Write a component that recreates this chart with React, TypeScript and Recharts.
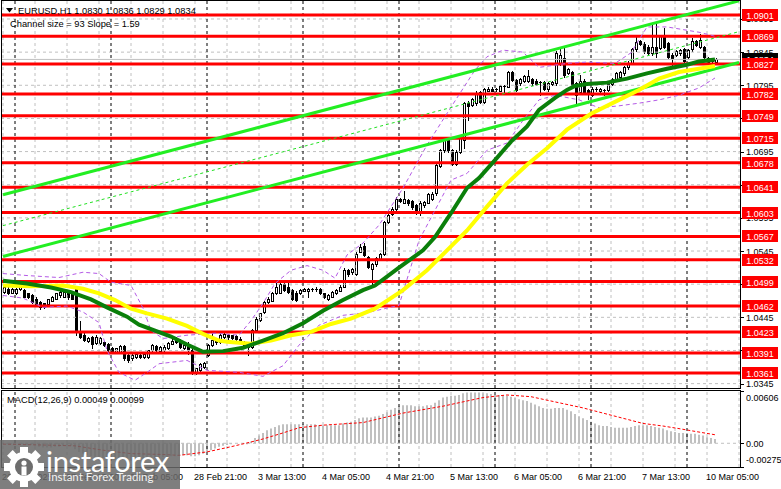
import React from 'react';
import { ComposedChart, Bar, Line, XAxis, YAxis, ReferenceLine } from 'recharts';

const FONT = '"Liberation Sans", Arial, sans-serif';

// ---- price candles [open, high, low, close], hourly bars ----
const candles: number[][] = [
  [1.0483,1.0492,1.0482,1.0490],[1.0488,1.0490,1.0480,1.0482],[1.0482,1.0489,1.0481,1.0487],[1.0482,1.0489,1.0480,1.0487],
  [1.0487,1.0493,1.0486,1.0492],[1.0486,1.0488,1.0475,1.0476],[1.0481,1.0482,1.0474,1.0476],[1.0478,1.0480,1.0467,1.0468],
  [1.0473,1.0475,1.0462,1.0463],[1.0468,1.0470,1.0458,1.0461],[1.0466,1.0467,1.0459,1.0461],[1.0465,1.0473,1.0463,1.0472],
  [1.0470,1.0477,1.0469,1.0476],[1.0473,1.0482,1.0472,1.0481],[1.0478,1.0485,1.0476,1.0483],[1.0476,1.0486,1.0475,1.0483],
  [1.0482,1.0485,1.0473,1.0475],[1.0481,1.0483,1.0472,1.0473],[1.0488,1.0490,1.0418,1.0423],[1.0425,1.0439,1.0414,1.0416],
  [1.0419,1.0421,1.0409,1.0411],[1.0409,1.0416,1.0408,1.0414],[1.0415,1.0417,1.0399,1.0405],[1.0406,1.0418,1.0405,1.0416],
  [1.0406,1.0416,1.0405,1.0414],[1.0408,1.0410,1.0402,1.0403],[1.0405,1.0406,1.0394,1.0395],[1.0399,1.0400,1.0391,1.0393],
  [1.0393,1.0399,1.0391,1.0398],[1.0393,1.0403,1.0392,1.0401],[1.0401,1.0403,1.0381,1.0383],[1.0388,1.0389,1.0378,1.0380],
  [1.0383,1.0389,1.0381,1.0388],[1.0385,1.0391,1.0384,1.0389],[1.0388,1.0389,1.0384,1.0385],[1.0385,1.0390,1.0384,1.0389],
  [1.0385,1.0396,1.0384,1.0395],[1.0395,1.0405,1.0394,1.0403],[1.0401,1.0403,1.0394,1.0395],[1.0394,1.0401,1.0393,1.0400],
  [1.0395,1.0403,1.0394,1.0400],[1.0398,1.0408,1.0397,1.0406],[1.0405,1.0412,1.0404,1.0410],[1.0413,1.0416,1.0406,1.0408],
  [1.0411,1.0413,1.0399,1.0400],[1.0399,1.0404,1.0397,1.0403],[1.0403,1.0408,1.0390,1.0395],[1.0395,1.0397,1.0359,1.0361],
  [1.0361,1.0369,1.0359,1.0368],[1.0365,1.0376,1.0364,1.0375],[1.0370,1.0378,1.0369,1.0376],[1.0388,1.0404,1.0386,1.0403],
  [1.0403,1.0423,1.0402,1.0411],[1.0411,1.0413,1.0405,1.0408],[1.0408,1.0421,1.0407,1.0419],[1.0415,1.0422,1.0414,1.0420],
  [1.0418,1.0420,1.0413,1.0415],[1.0418,1.0419,1.0413,1.0414],[1.0417,1.0419,1.0410,1.0412],[1.0413,1.0415,1.0406,1.0408],
  [1.0408,1.0410,1.0401,1.0403],[1.0405,1.0407,1.0388,1.0400],[1.0400,1.0427,1.0399,1.0426],[1.0426,1.0445,1.0425,1.0443],
  [1.0441,1.0452,1.0440,1.0451],[1.0453,1.0470,1.0452,1.0468],[1.0468,1.0475,1.0466,1.0473],[1.0470,1.0483,1.0469,1.0481],
  [1.0481,1.0502,1.0480,1.0491],[1.0482,1.0497,1.0481,1.0495],[1.0495,1.0497,1.0485,1.0486],[1.0491,1.0502,1.0482,1.0483],
  [1.0486,1.0487,1.0471,1.0472],[1.0482,1.0484,1.0470,1.0471],[1.0481,1.0488,1.0480,1.0486],[1.0485,1.0489,1.0484,1.0487],
  [1.0485,1.0489,1.0476,1.0487],[1.0487,1.0489,1.0484,1.0486],[1.0486,1.0490,1.0484,1.0487],[1.0487,1.0489,1.0480,1.0481],
  [1.0481,1.0482,1.0474,1.0476],[1.0473,1.0480,1.0471,1.0478],[1.0476,1.0485,1.0475,1.0483],[1.0481,1.0488,1.0480,1.0486],
  [1.0485,1.0493,1.0484,1.0491],[1.0491,1.0519,1.0490,1.0517],[1.0516,1.0518,1.0508,1.0510],[1.0513,1.0520,1.0511,1.0518],
  [1.0510,1.0543,1.0509,1.0541],[1.0544,1.0556,1.0543,1.0551],[1.0552,1.0557,1.0537,1.0539],[1.0536,1.0538,1.0519,1.0521],
  [1.0518,1.0527,1.0496,1.0525],[1.0525,1.0536,1.0523,1.0534],[1.0533,1.0542,1.0531,1.0540],[1.0541,1.0591,1.0539,1.0589],
  [1.0589,1.0601,1.0587,1.0599],[1.0601,1.0611,1.0599,1.0609],[1.0608,1.0626,1.0606,1.0624],[1.0623,1.0625,1.0619,1.0620],
  [1.0618,1.0636,1.0617,1.0623],[1.0622,1.0624,1.0615,1.0617],[1.0620,1.0622,1.0609,1.0611],[1.0614,1.0616,1.0601,1.0603],
  [1.0602,1.0620,1.0600,1.0618],[1.0614,1.0621,1.0612,1.0619],[1.0618,1.0633,1.0617,1.0631],[1.0624,1.0634,1.0622,1.0631],
  [1.0632,1.0677,1.0630,1.0675],[1.0673,1.0699,1.0672,1.0697],[1.0697,1.0715,1.0695,1.0712],[1.0712,1.0714,1.0695,1.0697],
  [1.0697,1.0699,1.0675,1.0677],[1.0677,1.0697,1.0675,1.0695],[1.0695,1.0717,1.0693,1.0715],[1.0712,1.0770,1.0700,1.0768],
  [1.0768,1.0771,1.0742,1.0763],[1.0765,1.0776,1.0763,1.0774],[1.0768,1.0786,1.0766,1.0784],[1.0785,1.0787,1.0768,1.0770],
  [1.0770,1.0791,1.0768,1.0789],[1.0787,1.0793,1.0786,1.0790],[1.0790,1.0792,1.0786,1.0787],[1.0788,1.0791,1.0787,1.0789],
  [1.0787,1.0796,1.0786,1.0794],[1.0794,1.0796,1.0785,1.0792],[1.0793,1.0817,1.0792,1.0815],[1.0815,1.0817,1.0801,1.0803],
  [1.0803,1.0805,1.0786,1.0788],[1.0798,1.0806,1.0796,1.0804],[1.0802,1.0811,1.0800,1.0809],[1.0802,1.0818,1.0800,1.0809],
  [1.0804,1.0806,1.0796,1.0798],[1.0802,1.0804,1.0795,1.0797],[1.0800,1.0802,1.0780,1.0798],[1.0800,1.0802,1.0788,1.0790],
  [1.0790,1.0800,1.0787,1.0798],[1.0797,1.0802,1.0795,1.0800],[1.0798,1.0846,1.0796,1.0843],[1.0828,1.0853,1.0826,1.0840],
  [1.0836,1.0853,1.0808,1.0810],[1.0814,1.0821,1.0812,1.0819],[1.0815,1.0817,1.0793,1.0795],[1.0798,1.0800,1.0765,1.0780],
  [1.0785,1.0810,1.0783,1.0801],[1.0802,1.0804,1.0783,1.0785],[1.0788,1.0790,1.0775,1.0783],[1.0781,1.0792,1.0779,1.0790],
  [1.0789,1.0792,1.0786,1.0788],[1.0787,1.0791,1.0785,1.0789],[1.0788,1.0790,1.0780,1.0787],[1.0788,1.0799,1.0786,1.0797],
  [1.0797,1.0806,1.0795,1.0804],[1.0805,1.0815,1.0803,1.0813],[1.0808,1.0817,1.0806,1.0815],[1.0813,1.0824,1.0811,1.0822],
  [1.0822,1.0831,1.0820,1.0829],[1.0829,1.0851,1.0827,1.0849],[1.0849,1.0869,1.0847,1.0861],[1.0862,1.0864,1.0856,1.0858],
  [1.0858,1.0860,1.0844,1.0846],[1.0853,1.0855,1.0841,1.0843],[1.0843,1.0886,1.0841,1.0853],[1.0852,1.0888,1.0838,1.0844],
  [1.0851,1.0871,1.0849,1.0869],[1.0868,1.0881,1.0851,1.0853],[1.0859,1.0861,1.0836,1.0838],[1.0841,1.0843,1.0826,1.0836],
  [1.0841,1.0848,1.0839,1.0846],[1.0843,1.0850,1.0841,1.0848],[1.0849,1.0851,1.0830,1.0832],[1.0838,1.0850,1.0836,1.0848],
  [1.0849,1.0866,1.0847,1.0862],[1.0862,1.0864,1.0854,1.0856],[1.0853,1.0872,1.0851,1.0864],[1.0852,1.0854,1.0836,1.0838],
  [1.0836,1.0838,1.0827,1.0829],[1.0834,1.0836,1.0829,1.0831],[1.0830,1.0836,1.0829,1.0834],
];

// ---- indicator readings [bar, value] ----
const greenMA: number[][] = [
  [0,1.0500],[6,1.0496],[12,1.0490],[17,1.0483],[22,1.0472],[26,1.0460],[31,1.0446],[34,1.0434],[38,1.0425],[42,1.0416],
  [46,1.0404],[50,1.0393],[55,1.0394],[60,1.0399],[65,1.0410],[70,1.0421],[75,1.0436],[80,1.0455],[85,1.0471],[90,1.0486],
  [93,1.0493],[99,1.0520],[105,1.0546],[108,1.0566],[112,1.0602],[116,1.0640],[119,1.0655],[123,1.0682],[127,1.0710],
  [131,1.0733],[134,1.0758],[138,1.0776],[141,1.0788],[143,1.0794],[146,1.0797],[151,1.0799],[156,1.0805],[161,1.0813],
  [166,1.0820],[171,1.0826],[174,1.0831],[178,1.0834],
];
const yellowMA: number[][] = [
  [0,1.0493],[7,1.0492],[15,1.0493],[20,1.0488],[24,1.0481],[28,1.0471],[32,1.0458],[36,1.0451],[41,1.0443],[46,1.0432],
  [50,1.0420],[54,1.0410],[56,1.0408],[62,1.0405],[67,1.0410],[72,1.0418],[77,1.0423],[82,1.0435],[87,1.0443],[93,1.0458],
  [100,1.0486],[106,1.0516],[111,1.0546],[116,1.0576],[121,1.0612],[126,1.0647],[131,1.0675],[136,1.0700],[141,1.0728],
  [147,1.0752],[154,1.0773],[159,1.0788],[164,1.0805],[169,1.0815],[174,1.0820],[178,1.0824],
];
const bandUpper: number[][] = [
  [0,1.0511],[6,1.0508],[14,1.0505],[20,1.0513],[24,1.0511],[27,1.0498],[32,1.0493],[35,1.0459],[37,1.0425],[40,1.0413],
  [46,1.0418],[53,1.0421],[59,1.0418],[62,1.0440],[65,1.0466],[68,1.0496],[72,1.0516],[76,1.0523],[80,1.0516],[83,1.0504],
  [86,1.0539],[90,1.0557],[94,1.0584],[100,1.0640],[106,1.0705],[112,1.0762],[118,1.0818],[121,1.0838],[125,1.0848],
  [130,1.0845],[134,1.0822],[141,1.0828],[146,1.0830],[153,1.0828],[157,1.0844],[161,1.0883],[166,1.0883],[171,1.0878],
  [174,1.0875],[178,1.0869],
];
const bandLower: number[][] = [
  [0,1.0478],[5,1.0474],[10,1.0460],[16,1.0462],[20,1.0453],[24,1.0437],[26,1.0395],[29,1.0362],[33,1.0350],[36,1.0362],
  [39,1.0375],[46,1.0380],[51,1.0365],[59,1.0362],[65,1.0356],[70,1.0372],[74,1.0403],[79,1.0433],[85,1.0448],[91,1.0452],
  [99,1.0463],[104,1.0561],[112,1.0652],[116,1.0662],[121,1.0697],[126,1.0708],[130,1.0742],[134,1.0773],[138,1.0780],
  [144,1.0773],[149,1.0761],[154,1.0764],[159,1.0768],[164,1.0773],[169,1.0780],[174,1.0791],[178,1.0806],
];
const channelUpper: number[][] = [[0,1.06298],[184,1.09224]];
const channelLower: number[][] = [[0,1.05368],[184,1.08294]];
const channelMid: number[][] = [[0,1.05833],[184,1.08759]];

const levels = [1.0901,1.0869,1.0827,1.0782,1.0749,1.0715,1.0678,1.0641,1.0603,1.0567,1.0532,1.0499,1.0462,1.0423,1.0391,1.0361];
const priceTicks = [1.0345,1.0395,1.0445,1.0495,1.0545,1.0595,1.0645,1.0695,1.0745,1.0795,1.0845,1.0895];
const bidPrice = 1.0834;
const timeLabels: [number, string][] = [
  [0,'26 Feb 2025'],[16,'27 Feb 13:00'],[32,'28 Feb 05:00'],[48,'28 Feb 21:00'],[64,'3 Mar 13:00'],[80,'4 Mar 05:00'],
  [96,'4 Mar 21:00'],[112,'5 Mar 13:00'],[128,'6 Mar 05:00'],[144,'6 Mar 21:00'],[160,'7 Mar 13:00'],[176,'10 Mar 05:00'],
];
const daySeparators = [3,27,51,75,99,123,147,171];
const gridBars = [0,8,16,24,32,40,48,56,64,72,80,88,96,104,112,120,128,136,144,152,160,168,176,184];

const macdHist: number[] = [
  -0.0001,-0.0001,-0.0001,-0.0001,-0.0001,-0.0001,-0.0002,-0.0002,-0.0003,-0.0004,-0.0005,-0.0005,-0.0005,-0.0004,-0.0004,-0.0003,-0.0003,-0.0003,
  -0.0007,-0.0010,-0.0012,-0.0014,-0.0015,-0.0016,-0.0017,-0.0017,-0.0018,-0.0018,-0.0019,-0.0019,-0.0019,
  -0.0020,-0.0020,-0.0020,-0.0019,-0.0019,-0.0018,-0.0018,-0.0017,-0.0017,-0.0016,
  -0.0016,-0.0015,-0.0015,-0.0014,-0.0014,-0.0014,-0.0015,-0.0015,-0.0014,-0.0012,
  -0.0010,-0.0008,-0.0006,-0.0004,-0.0003,-0.0002,-0.0001,0.0000,0.0000,0.0000,-0.0001,
  0.0002,0.0006,0.0009,0.0012,0.0015,0.0017,0.0019,0.0021,0.0022,
  0.0022,0.0022,0.0022,0.0022,0.0022,0.0022,0.0022,0.0022,0.0021,0.0021,
  0.0021,0.0021,0.0021,0.0021,0.0023,0.0024,0.0025,0.0027,0.0029,0.0030,
  0.0030,0.0030,0.0031,0.0032,0.0034,0.0036,0.0039,0.0041,0.0043,0.0044,
  0.0044,0.0044,0.0043,0.0043,0.0043,0.0044,0.0044,0.0047,0.0050,0.0053,
  0.0054,0.0055,0.0055,0.0056,0.0058,0.0059,0.0059,0.0059,0.0059,0.0058,
  0.0058,0.0057,0.0056,0.0056,0.0055,0.0055,0.0054,0.0053,0.0051,0.0050,
  0.0049,0.0047,0.0045,0.0043,0.0041,0.0040,0.0040,0.0041,0.0041,0.0041,
  0.0039,0.0037,0.0034,0.0031,0.0029,0.0027,0.0025,0.0023,0.0021,0.0020,
  0.0020,0.0019,0.0018,0.0018,0.0018,0.0018,0.0019,0.0020,0.0021,0.0021,
  0.0021,0.0020,0.0019,0.0018,0.0017,0.0015,0.0014,0.0013,0.0012,0.0012,
  0.0012,0.0011,0.0011,0.0010,0.0009,0.0007,0.0006,0.00049,
];
const macdSignal: number[][] = [
  [0,-0.0001],[10,-0.0002],[18,-0.0003],[25,-0.0008],[32,-0.0012],[40,-0.0013],[44,-0.0014],[51,-0.0010],[57,-0.0004],
  [62,0.00015],[65,0.0005],[70,0.0012],[74,0.0018],[80,0.0021],[90,0.0024],[100,0.0035],[110,0.0043],[120,0.0053],
  [126,0.0056],[132,0.0054],[138,0.0048],[145,0.0041],[150,0.0035],[155,0.0029],[160,0.0023],[165,0.0020],[169,0.0017],
  [174,0.0013],[178,0.00099],
];
const macdLabels: [number, string][] = [[0.00606,'0.00606'],[0,'0.00'],[-0.00275,'-0.00275']];

const N = 185;
const PRICE_DOMAIN: [number, number] = [1.033838, 1.092212];
const MACD_DOMAIN: [number, number] = [-0.00275, 0.00606];

const toMap = (pts: number[][]) => new Map(pts.map(([i, v]) => [i, v] as [number, number]));
const gM = toMap(greenMA), yM = toMap(yellowMA), buM = toMap(bandUpper), blM = toMap(bandLower);
const cuM = toMap(channelUpper), clM = toMap(channelLower), cmM = toMap(channelMid), sgM = toMap(macdSignal);

const mainData = Array.from({ length: N }, (_, i) => {
  const cd = candles[i];
  return {
    i,
    range: cd ? [cd[2], cd[1]] : null,
    o: cd ? cd[0] : null, h: cd ? cd[1] : null, l: cd ? cd[2] : null, c: cd ? cd[3] : null,
    green: gM.has(i) ? gM.get(i) : null,
    yellow: yM.has(i) ? yM.get(i) : null,
    bu: buM.has(i) ? buM.get(i) : null,
    bl: blM.has(i) ? blM.get(i) : null,
    cu: cuM.has(i) ? cuM.get(i) : null,
    cl: clM.has(i) ? clM.get(i) : null,
    cm: cmM.has(i) ? cmM.get(i) : null,
  };
});
const macdData = Array.from({ length: N }, (_, i) => ({
  i,
  macd: i < macdHist.length ? macdHist[i] : null,
  signal: sgM.has(i) ? sgM.get(i) : null,
}));

function CandleShape(props: any) {
  const { x, y, width, height, payload } = props;
  if (!payload || payload.o == null || x == null || y == null) return null;
  const { o, h, l, c } = payload;
  const top = Math.min(y, y + height);
  const H = Math.abs(height);
  const k = h > l ? H / (h - l) : 0;
  const cx = Math.round(x + width / 2);
  const bTop = Math.round(top + (h - Math.max(o, c)) * k);
  const bBot = Math.round(top + (h - Math.min(o, c)) * k);
  const wTop = Math.round(top);
  const wBot = Math.round(top + H);
  const up = c >= o;
  const bh = bBot - bTop;
  return (
    <g>
      <line x1={cx + 0.5} x2={cx + 0.5} y1={wTop} y2={wBot + 1} stroke="#000" strokeWidth={1} />
      {bh <= 1 ? (
        <rect x={cx - 1} y={bTop} width={3} height={1} fill="#000" />
      ) : up ? (
        <rect x={cx - 0.5} y={bTop + 0.5} width={2} height={bh} fill="#fff" stroke="#000" strokeWidth={1} />
      ) : (
        <rect x={cx - 1} y={bTop} width={3} height={bh + 1} fill="#000" />
      )}
    </g>
  );
}

const boxLabel = (text: string, bg: string, fg: string) => (p: any) => {
  const vb = p.viewBox || {};
  const right = (vb.x || 0) + (vb.width || 0);
  const y = Math.round(vb.y || 0);
  return (
    <g>
      <rect x={right + 1} y={y - 6} width={36} height={12} fill={bg} />
      <text x={right + 19} y={y + 3.5} textAnchor="middle" fontSize={9} fontFamily={FONT} fill={fg}>{text}</text>
    </g>
  );
};
const tickLabel = (text: string, dy = 0) => (p: any) => {
  const vb = p.viewBox || {};
  const right = (vb.x || 0) + (vb.width || 0);
  const y = vb.y || 0;
  return (
    <g>
      <line x1={right} x2={right + 3} y1={Math.round(y) + 0.5} y2={Math.round(y) + 0.5} stroke="#000" />
      <text x={right + 5} y={y + 3.5 + dy} fontSize={9} fontFamily={FONT} fill="#000">{text}</text>
    </g>
  );
};
const timeLabel = (text: string) => (p: any) => {
  const vb = p.viewBox || {};
  return (
    <text x={(vb.x || 0) - 1} y={(vb.y || 0) + (vb.height || 0) + 13} fontSize={9} fontFamily={FONT} fill="#000">{text}</text>
  );
};

function Watermark() {
  const teeth = [0, 45, 90, 135, 180, 225, 270, 315];
  return (
    <div style={{ position: 'absolute', left: 0, top: 440, width: 180, height: 49, background: 'rgba(105,105,105,0.86)', overflow: 'hidden' }}>
      <svg width={46} height={49} style={{ position: 'absolute', left: 1, top: 0 }}>
        <g transform="translate(23,27)">
          {teeth.map((a) => (
            <rect key={a} x={-4} y={-20} width={8} height={8} fill="#fff" transform={`rotate(${a})`} />
          ))}
          <circle r={15} fill="#fff" />
          <circle r={9} fill="#6d6d6d" />
          <circle cx={0} cy={-4} r={2.6} fill="#fff" />
          <rect x={-2.5} y={-0.5} width={5} height={9} fill="#fff" />
        </g>
      </svg>
      <div style={{ position: 'absolute', left: 46, top: 6, fontFamily: 'Lato, "Open Sans", sans-serif', fontSize: 29, lineHeight: '30px', color: '#fff', letterSpacing: '-0.3px' }}>instaforex</div>
      <div style={{ position: 'absolute', left: 48, top: 31, fontFamily: 'Lato, "Open Sans", sans-serif', fontSize: 11.5, lineHeight: '12px', color: '#f2f2f2' }}>Instant Forex Trading</div>
    </div>
  );
}

export default function App() {
  return (
    <div style={{ position: 'absolute', left: 0, top: 0, width: 781, height: 489, background: '#fff', overflow: 'hidden', fontFamily: FONT }}>
      <div style={{ position: 'absolute', left: 0, top: 0 }}>
        <ComposedChart width={781} height={389} data={mainData} margin={{ top: 1, right: 40, bottom: 1, left: 1 }}>
          <XAxis dataKey="i" type="category" hide />
          <YAxis type="number" domain={PRICE_DOMAIN} allowDataOverflow hide />
          {gridBars.map((b) => (
            <ReferenceLine key={'gv' + b} x={b} stroke="#c0c0c0" strokeDasharray="3 3" />
          ))}
          {priceTicks.map((t) => (
            <ReferenceLine key={'gh' + t} y={t} stroke="#c0c0c0" strokeDasharray="3 3" label={tickLabel(t.toFixed(4))} />
          ))}
          {daySeparators.map((b) => (
            <ReferenceLine key={'ds' + b} x={b} stroke="#000" strokeDasharray="3 3" />
          ))}
          <ReferenceLine y={bidPrice} stroke="#c0c0c0" label={boxLabel(bidPrice.toFixed(4), '#000', '#fff')} />
          {levels.map((lv) => (
            <ReferenceLine key={'lv' + lv} y={lv} stroke="#ff0000" strokeWidth={3} label={boxLabel(lv.toFixed(4), '#ff0000', '#fff')} />
          ))}
          <Line dataKey="bu" stroke="#b45ae6" strokeWidth={1} strokeDasharray="4 3" dot={false} connectNulls isAnimationActive={false} />
          <Line dataKey="bl" stroke="#b45ae6" strokeWidth={1} strokeDasharray="4 3" dot={false} connectNulls isAnimationActive={false} />
          <Line dataKey="cm" stroke="#22e022" strokeWidth={1} strokeDasharray="3 3" dot={false} connectNulls isAnimationActive={false} />
          <Line dataKey="cu" stroke="#22ee22" strokeWidth={3} dot={false} connectNulls isAnimationActive={false} />
          <Line dataKey="cl" stroke="#22ee22" strokeWidth={3} dot={false} connectNulls isAnimationActive={false} />
          <Line dataKey="yellow" stroke="#ffff00" strokeWidth={4} dot={false} connectNulls isAnimationActive={false} />
          <Line dataKey="green" stroke="#0a7f0a" strokeWidth={4} dot={false} connectNulls isAnimationActive={false} />
          <Bar dataKey="range" barSize={3} shape={CandleShape} isAnimationActive={false} />
        </ComposedChart>
      </div>
      <div style={{ position: 'absolute', left: 0, top: 389 }}>
        <ComposedChart width={781} height={100} data={macdData} margin={{ top: 2, right: 40, bottom: 22, left: 1 }}>
          <XAxis dataKey="i" type="category" hide />
          <YAxis type="number" domain={MACD_DOMAIN} allowDataOverflow hide />
          {gridBars.map((b) => (
            <ReferenceLine key={'mgv' + b} x={b} stroke="#c0c0c0" strokeDasharray="3 3" />
          ))}
          {timeLabels.map(([b, t]) => (
            <ReferenceLine key={'tl' + b} x={b} stroke="none" label={timeLabel(t)} />
          ))}
          {daySeparators.map((b) => (
            <ReferenceLine key={'mds' + b} x={b} stroke="#000" strokeDasharray="3 3" />
          ))}
          {macdLabels.map(([v, t]) => (
            <ReferenceLine key={'ml' + t} y={v} stroke={v === 0 ? '#c0c0c0' : 'none'} strokeDasharray="3 3"
              label={tickLabel(t, v > 0 ? 6 : v < 0 ? -8 : 0)} />
          ))}
          <Bar dataKey="macd" barSize={2} fill="#c0c0c0" isAnimationActive={false} />
          <Line dataKey="signal" stroke="#ff0000" strokeWidth={1} strokeDasharray="3 2" dot={false} connectNulls isAnimationActive={false} />
        </ComposedChart>
      </div>
      <svg width={781} height={489} style={{ position: 'absolute', left: 0, top: 0, pointerEvents: 'none' }}>
        <rect x={1.5} y={0.5} width={739} height={388} fill="none" stroke="#000" />
        <rect x={1.5} y={390.5} width={739} height={77} fill="none" stroke="#000" />
        <polygon points="6,8 13,8 9.5,12.5" fill="#000" />
        <text x={18} y={14} fontSize={9.3} fontFamily={FONT} fill="#000">EURUSD,H1  1.0830 1.0836 1.0829 1.0834</text>
        <text x={10} y={27} fontSize={9.3} fontFamily={FONT} fill="#000">Channel size = 93 Slope = 1.59</text>
        <text x={7} y={403} fontSize={9.3} fontFamily={FONT} fill="#000">MACD(12,26,9) 0.00049 0.00099</text>
      </svg>
      <Watermark />
    </div>
  );
}
